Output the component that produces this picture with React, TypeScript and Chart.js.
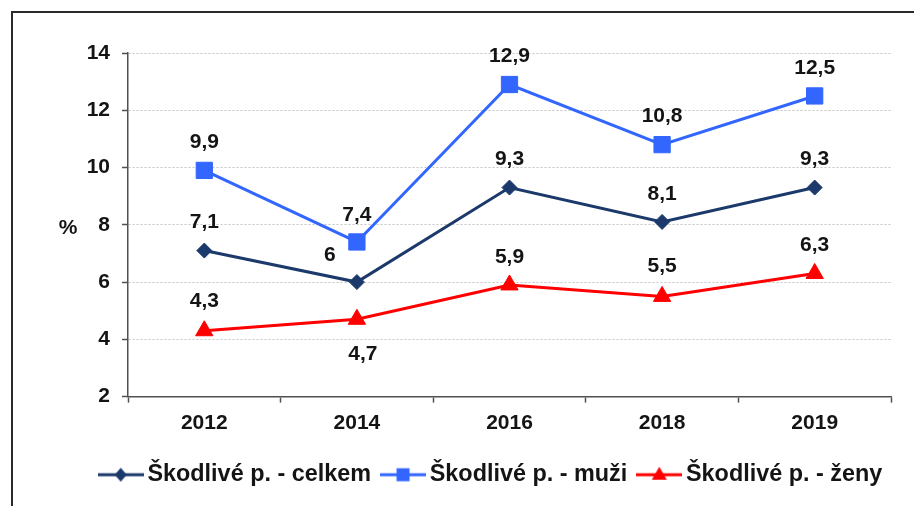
import React, { useEffect, useRef } from 'react';
import { Chart, registerables } from 'chart.js';

Chart.register(...registerables);

// ---- data ----
const categories = ['2012', '2014', '2016', '2018', '2019'];
const celkem = [7.1, 6, 9.3, 8.1, 9.3];
const muzi = [9.9, 7.4, 12.9, 10.8, 12.5];
const zeny = [4.3, 4.7, 5.9, 5.5, 6.3];
const seriesNames = ['Škodlivé p. - celkem', 'Škodlivé p. - muži', 'Škodlivé p. - ženy'];
const yMin = 2;
const yMax = 14;
const yStep = 2;
const yTitle = '%';

// ---- styles ----
const FONT = "'Liberation Sans', Arial, sans-serif";
const NAVY = '#1b3a6b';
const BLUE = '#3366ff';
const RED = '#ff0000';
const TEXT = '#141414';
const AXIS = '#505050';

// label offsets (style only) per dataset, per point
const labelOffsets = [
  [[0, -28], [-27, -27], [0, -28], [0, -28], [0, -28]],
  [[0, -28], [0, -27], [0, -28], [0, -28], [0, -28]],
  [[0, -30], [6, 35], [0, -28], [0, -30], [0, -28]],
];

function legendIcon(color: string, shape: string) {
  const c = document.createElement('canvas');
  c.width = 46;
  c.height = 20;
  const ctx = c.getContext('2d')!;
  ctx.strokeStyle = color;
  ctx.lineWidth = 3;
  ctx.beginPath();
  ctx.moveTo(0, 10);
  ctx.lineTo(46, 10);
  ctx.stroke();
  ctx.fillStyle = color;
  ctx.beginPath();
  if (shape === 'diamond') {
    ctx.moveTo(23, 3);
    ctx.lineTo(29, 10);
    ctx.lineTo(23, 17);
    ctx.lineTo(17, 10);
  } else if (shape === 'square') {
    ctx.rect(16.5, 3.5, 13, 13);
  } else {
    ctx.moveTo(23, 2);
    ctx.lineTo(30.5, 15);
    ctx.lineTo(15.5, 15);
  }
  ctx.closePath();
  ctx.fill();
  return c;
}

const pointLabelsPlugin = {
  id: 'pointLabels',
  afterDatasetsDraw(chart: any) {
    const ctx = chart.ctx;
    ctx.save();
    ctx.font = `bold 21px ${FONT}`;
    ctx.fillStyle = TEXT;
    ctx.textAlign = 'center';
    ctx.textBaseline = 'middle';
    chart.data.datasets.forEach((ds: any, di: number) => {
      const meta = chart.getDatasetMeta(di);
      meta.data.forEach((el: any, i: number) => {
        const v = ds.data[i];
        const off = labelOffsets[di][i];
        ctx.fillText(String(v).replace('.', ','), el.x + off[0], el.y + off[1]);
      });
    });
    ctx.restore();
  },
};

const yTitlePlugin = {
  id: 'yTitleFlat',
  afterDraw(chart: any) {
    const ctx = chart.ctx;
    const a = chart.chartArea;
    ctx.save();
    ctx.font = `bold 21px ${FONT}`;
    ctx.fillStyle = TEXT;
    ctx.textAlign = 'center';
    ctx.textBaseline = 'middle';
    ctx.fillText(yTitle, 68, (a.top + a.bottom) / 2 + 3);
    ctx.restore();
  },
};

const legendPlacePlugin = {
  id: 'legendPlace',
  afterLayout(chart: any) {
    const L = chart.legend;
    if (!L) return;
    const targetCenter = 494;
    const targetTop = 446;
    const dx = targetCenter - (L.left + L.right) / 2;
    L.left += dx;
    L.right += dx;
    const dy = targetTop - L.top;
    L.top += dy;
    L.bottom += dy;
  },
};

export default function App() {
  const ref = useRef<HTMLCanvasElement>(null);

  useEffect(() => {
    if (!ref.current) return;
    const icons = [legendIcon(NAVY, 'diamond'), legendIcon(BLUE, 'square'), legendIcon(RED, 'triangle')];
    const chart = new Chart(ref.current, {
      type: 'line',
      data: {
        labels: categories,
        datasets: [
          {
            label: seriesNames[0],
            data: celkem,
            borderColor: NAVY,
            backgroundColor: NAVY,
            borderWidth: 3,
            pointStyle: 'rectRot',
            pointRadius: 7.5,
            pointBorderWidth: 1,
            pointBackgroundColor: NAVY,
            pointBorderColor: NAVY,
            tension: 0,
          },
          {
            label: seriesNames[1],
            data: muzi,
            borderColor: BLUE,
            backgroundColor: BLUE,
            borderWidth: 3,
            pointStyle: 'rect',
            pointRadius: 11.5,
            pointBorderWidth: 1,
            pointBackgroundColor: BLUE,
            pointBorderColor: BLUE,
            tension: 0,
          },
          {
            label: seriesNames[2],
            data: zeny,
            borderColor: RED,
            backgroundColor: RED,
            borderWidth: 3,
            pointStyle: 'triangle',
            pointRadius: 10,
            pointBorderWidth: 1,
            pointBackgroundColor: RED,
            pointBorderColor: RED,
            tension: 0,
          },
        ],
      },
      options: {
        responsive: false,
        animation: false,
        layout: { padding: { top: 53, right: 23, bottom: 14, left: 0 } },
        scales: {
          x: {
            type: 'category',
            offset: true,
            afterFit: (s: any) => {
              s.height = 45;
            },
            grid: {
              offset: true,
              drawOnChartArea: false,
              drawTicks: true,
              tickLength: 6,
              tickColor: AXIS,
              tickWidth: 1.5,
            },
            border: { display: true, color: AXIS, width: 1.5 },
            ticks: {
              color: TEXT,
              font: { family: FONT, size: 21, weight: 'bold' },
              padding: 8,
              maxRotation: 0,
            },
          },
          y: {
            min: yMin,
            max: yMax,
            afterFit: (s: any) => {
              s.width = 128;
            },
            grid: {
              color: '#c4c4c4',
              lineWidth: 1,
              drawTicks: true,
              tickLength: 6,
              tickColor: AXIS,
              tickWidth: 1.5,
              tickBorderDash: [],
            },
            border: { display: true, color: AXIS, width: 1.5, dash: [2, 2] },
            ticks: {
              stepSize: yStep,
              color: TEXT,
              font: { family: FONT, size: 21, weight: 'bold' },
              padding: 12,
            },
          },
        },
        plugins: {
          legend: {
            display: true,
            position: 'bottom',
            labels: {
              usePointStyle: true,
              pointStyleWidth: 30,
              padding: 17,
              color: TEXT,
              font: { family: FONT, size: 23.4, weight: 'bold' },
              generateLabels: (ch: any) => {
                const items = (Chart as any).defaults.plugins.legend.labels.generateLabels(ch);
                items.forEach((it: any, i: number) => {
                  it.pointStyle = icons[i];
                });
                return items;
              },
            },
          },
          tooltip: { enabled: false },
        },
      } as any,
      plugins: [pointLabelsPlugin, yTitlePlugin, legendPlacePlugin],
    });
    return () => chart.destroy();
  }, []);

  return (
    <div
      style={{
        position: 'fixed',
        left: 0,
        top: 0,
        width: 914,
        height: 506,
        overflow: 'hidden',
        background: '#fff',
      }}
    >
      <div
        style={{
          position: 'absolute',
          left: 11,
          top: 11,
          width: 1000,
          height: 1000,
          border: '2px solid #2a2a2a',
          boxSizing: 'border-box',
        }}
      />
      <canvas ref={ref} width={914} height={506} style={{ position: 'absolute', left: 0, top: 0 }} />
    </div>
  );
}
